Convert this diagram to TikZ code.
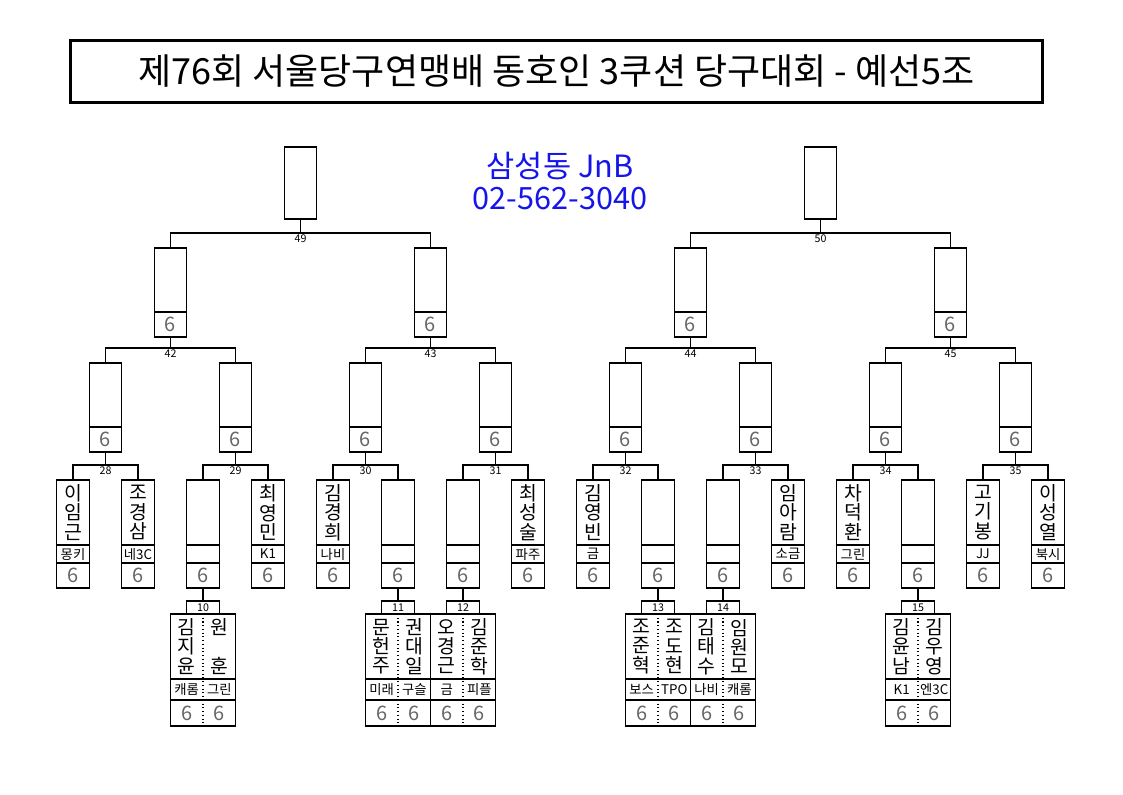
\documentclass[tikz,border=0pt]{standalone}
\usepackage{fontspec}
\setmainfont{Noto Sans CJK KR}
\usetikzlibrary{positioning}

\begin{document}
\begin{tikzpicture}[x=0.75pt,y=-0.75pt,line width=0.8pt,
  box/.style={draw,inner sep=0pt,outer sep=0pt,minimum width=24.4pt},
  upper/.style={box,minimum height=48pt},
  six/.style={box,minimum height=18.75pt,text=black!60,font=\fontsize{15}{15}\selectfont},
  namecell/.style={box,minimum height=48.75pt,align=center,font=\fontsize{14.5}{14.5}\selectfont},
  club/.style={box,minimum height=13.5pt,font=\fontsize{10}{10}\selectfont},
  num/.style={inner sep=1pt,font=\fontsize{8}{8}\selectfont},
  pair/.style={inner sep=0pt,outer sep=0pt,minimum width=24.4pt,align=center}]
\useasboundingbox (0,0) rectangle (1123,794);
% Define colours
\definecolor{venue}{RGB}{20,20,235}

% Title and venue
\node[draw,line width=2.2pt,minimum width=729pt,minimum height=47pt,font=\fontsize{27}{27}\selectfont] (title) at (556.5,71.5) {제76회 서울당구연맹배 동호인 3쿠션 당구대회 - 예선5조};
\node[text=venue,align=center,font=\fontsize{23}{23.5}\selectfont] (venue) at (560,181) {삼성동 JnB\\02-562-3040};

% Final boxes
\node[box,minimum height=54pt,anchor=north,alias=v49] (w49) at (300.5,147) {};
\node[box,minimum height=54pt,anchor=north,alias=v50] (w50) at (820.5,147) {};

% Winner boxes
\foreach \m/\x/\y in {42/170.5/248,43/430.5/248,44/690.5/248,45/950.5/248,
  28/105.5/363,29/235.5/363,30/365.5/363,31/495.5/363,
  32/625.5/363,33/755.5/363,34/885.5/363,35/1015.5/363}
{
  \node[upper,anchor=north] (w\m) at (\x,\y) {};
  \node[six,below=0pt of w\m] (v\m) {6};
}

% Players
\foreach \i/\x/\nm/\cl in {1/73/이\\임\\근/몽키,2/138/조\\경\\삼/네3C,3/203//,4/268/최\\영\\민/K1,
  5/333/김\\경\\희/나비,6/398//,7/463//,8/528/최\\성\\술/파주,
  9/593/김\\영\\빈/금,10/658//,11/723//,12/788/임\\아\\람/소금,
  13/853/차\\덕\\환/그린,14/918//,15/983/고\\기\\봉/JJ,16/1048/이\\성\\열/북시}
{
  \node[namecell,anchor=north] (l\i) at (\x,480) {\nm};
  \node[club,below=0pt of l\i] (c\i) {\cl};
  \node[six,below=0pt of c\i] (s\i) {6};
}

% Brackets
\foreach \m/\a/\b in {28/l1/l2,29/l3/l4,30/l5/l6,31/l7/l8,32/l9/l10,33/l11/l12,34/l13/l14,35/l15/l16,
  42/w28/w29,43/w30/w31,44/w32/w33,45/w34/w35,49/w42/w43,50/w44/w45}
{
  \draw (\a.north) -- ++(0,-15) coordinate (b\m) -| (\b.north);
  \draw (v\m.south) -- (v\m.south |- b\m);
  \node[num,below] (n\m) at (v\m.south |- b\m) {\m};
}

% Preliminary pairs
\foreach \m/\k/\x/\na/\nb/\ca/\cb in {10/3/203/김\\지\\윤/원\\\phantom{원}\\훈/캐롬/그린,
  11/6/398/문\\헌\\주/권\\대\\일/미래/구슬,12/7/463/오\\경\\근/김\\준\\학/금/피플,
  13/10/658/조\\준\\혁/조\\도\\현/보스/TPO,14/11/723/김\\태\\수/임\\원\\모/나비/캐롬,
  15/14/918/김\\윤\\남/김\\우\\영/K1/엔3C}
{
  \node[box,minimum width=24.75pt,minimum height=9.75pt,anchor=north,font=\fontsize{8}{8}\selectfont] (t\m) at (\x,601) {\m};
  \draw (s\k.south) -- (t\m.north);
  \node[pair,minimum height=48.75pt,anchor=north east,font=\fontsize{14.5}{14.5}\selectfont] (na\m) at (\x,614) {\na};
  \node[pair,minimum height=48.75pt,anchor=north west,font=\fontsize{14.5}{14.5}\selectfont] (nb\m) at (\x,614) {\nb};
  \node[pair,minimum height=15.75pt,below=0pt of na\m,font=\fontsize{10}{10}\selectfont] (ca\m) {\ca};
  \node[pair,minimum height=15.75pt,below=0pt of nb\m,font=\fontsize{10}{10}\selectfont] (cb\m) {\cb};
  \node[pair,minimum height=19.5pt,below=0pt of ca\m,text=black!60,font=\fontsize{15}{15}\selectfont] (sa\m) {6};
  \node[pair,minimum height=19.5pt,below=0pt of cb\m,text=black!60,font=\fontsize{15}{15}\selectfont] (sb\m) {6};
  \draw (na\m.north west) rectangle (sb\m.south east);
  \draw (ca\m.north west) -- (cb\m.north east);
  \draw (sa\m.north west) -- (sb\m.north east);
  \draw[dotted] (na\m.north east) -- (sa\m.south east);
}
\end{tikzpicture}
\end{document}
